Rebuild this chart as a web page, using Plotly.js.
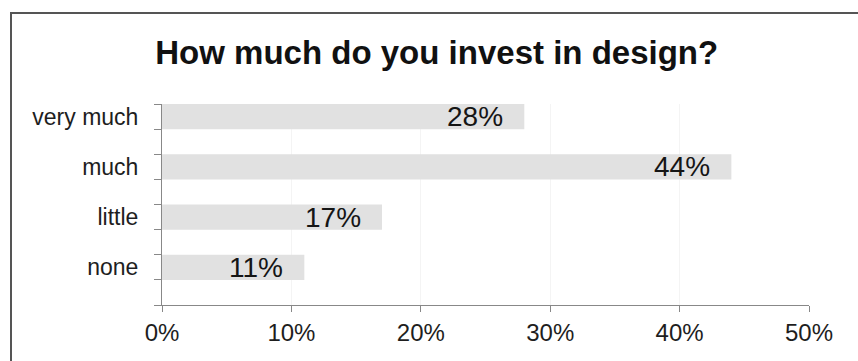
<!DOCTYPE html>
<html>
<head>
<meta charset="utf-8">
<script src="https://cdn.plot.ly/plotly-3.0.1.min.js"></script>
<style>
  html, body { margin: 0; padding: 0; background: #ffffff; }
  #wrap { position: relative; width: 858px; height: 361px; overflow: hidden; }
  #chart { position: absolute; left: 0; top: 0; width: 858px; height: 361px; }
  #frame {
    position: absolute; left: 10px; top: 12px; width: 900px; height: 400px;
    border-left: 2px solid #555555; border-top: 2px solid #555555;
    pointer-events: none;
  }
</style>
</head>
<body>
<div id="wrap">
  <div id="chart"></div>
  <div id="frame"></div>
</div>
<script>
// Survey answers, top to bottom
const categories = ['very much', 'much', 'little', 'none'];
const shares = [28, 44, 17, 11];            // percent of respondents
const xTicks = [0, 10, 20, 30, 40, 50];
const xTickLabels = ['0%', '10%', '20%', '30%', '40%', '50%'];
const chartTitle = 'How much do you invest in design?';

const positions = categories.map((_, i) => i);

const bars = {
  type: 'bar',
  orientation: 'h',
  x: shares,
  y: positions,
  width: 0.5,
  marker: { color: '#e1e1e1', line: { width: 0 } },
  hoverinfo: 'skip'
};

// value labels sit inside the bar, a little short of its end
const valueLabels = shares.map((v, i) => ({
  x: v, y: positions[i], xref: 'x', yref: 'y',
  text: v + '%', showarrow: false,
  xanchor: 'right', yanchor: 'middle', xshift: -19,
  font: { family: 'Liberation Sans, Arial, sans-serif', size: 28, color: '#151515' }
}));

const layout = {
  width: 858, height: 361,
  margin: { l: 162, r: 49, t: 104, b: 56 },
  paper_bgcolor: '#ffffff',
  plot_bgcolor: '#ffffff',
  showlegend: false,
  title: {
    text: '<b>' + chartTitle + '</b>',
    font: { family: 'Liberation Sans, Arial, sans-serif', size: 33, color: '#111111' },
    x: 0.509, xanchor: 'center', y: 0.855, yanchor: 'middle'
  },
  xaxis: {
    range: [0, 50],
    tickvals: xTicks, ticktext: xTickLabels,
    ticks: 'outside', ticklen: 6, tickcolor: '#888888', tickwidth: 1,
    showline: true, linecolor: '#888888', linewidth: 1,
    showgrid: true, gridcolor: '#f4f4f4', gridwidth: 1,
    zeroline: false,
    tickfont: { family: 'Liberation Sans, Arial, sans-serif', size: 24, color: '#1e1e1e' },
    fixedrange: true
  },
  yaxis: {
    range: [categories.length - 0.25, -0.25],
    tickvals: positions, ticktext: categories,
    ticks: '', showgrid: false, zeroline: false,
    minor: { ticks: 'outside', ticklen: 7, tickcolor: '#888888', tickwidth: 1, tick0: 0.25, dtick: 0.5, showgrid: false },
    showline: true, linecolor: '#888888', linewidth: 1,
    ticklabelstandoff: 18,
    tickfont: { family: 'Liberation Sans, Arial, sans-serif', size: 23, color: '#1e1e1e' },
    fixedrange: true
  },
  annotations: valueLabels
};

Plotly.newPlot('chart', [bars], layout, { staticPlot: true, displayModeBar: false });
</script>
</body>
</html>
